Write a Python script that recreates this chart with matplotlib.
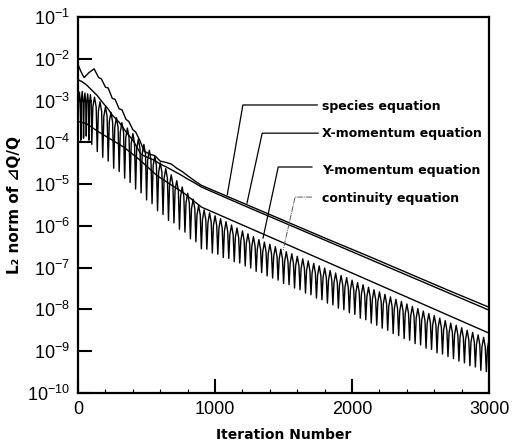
import numpy as np
import matplotlib
matplotlib.use("Agg")
import matplotlib.pyplot as plt
from matplotlib.ticker import FixedLocator, MultipleLocator, NullLocator

# curves, y values are log10 of the L2 norm
species_x = [0, 20, 44, 80, 117, 150, 170, 200, 220, 250, 270, 300, 320, 350, 370,
             400, 420, 450, 482, 520, 560, 600, 640, 680, 720, 760, 800, 850, 900,
             1200, 1500, 1800, 2100, 2400, 2700, 3000]
species_log = [-2.14, -2.30, -2.45, -2.33, -2.24, -2.45, -2.48, -2.68, -2.70, -2.95, -2.97,
               -3.20, -3.22, -3.45, -3.50, -3.70, -3.75, -3.95, -4.21, -4.28, -4.32, -4.45,
               -4.48, -4.52, -4.62, -4.70, -4.80, -4.92, -5.03,
               -5.45, -5.87, -6.29, -6.70, -7.12, -7.54, -7.95]

xmom_x = [0, 30, 60, 100, 140, 180, 212, 250, 300, 350, 400, 460, 500, 550, 600, 650,
          700, 750, 800, 850, 900, 1200, 1500, 1800, 2100, 2400, 2700, 3000]
xmom_log = [-2.50, -2.55, -2.62, -2.75, -2.88, -3.05, -3.17, -3.35, -3.52, -3.75, -3.95,
            -4.29, -4.35, -4.42, -4.52, -4.60, -4.69, -4.78, -4.88, -4.97, -5.07,
            -5.50, -5.92, -6.34, -6.76, -7.18, -7.60, -8.02]

ymom_x = [0, 60, 150, 336, 450, 577, 774, 900, 1500, 2000, 2500, 3000]
ymom_log = [-3.50, -3.55, -3.75, -4.12, -4.42, -4.80, -5.22, -5.55, -6.41, -7.13, -7.85, -8.57]

# continuity: oscillating, one cusp (bottom) and one arch top per cycle
cont_cusp_x = [0, 20, 40, 60, 80, 100,
               140, 180, 220, 260, 300, 340, 380, 420, 460, 500, 540, 580, 620, 660,
               700, 740, 780, 820, 860, 900, 940, 980, 1020, 1060, 1100, 1140, 1180,
               1220, 1260, 1300, 1340, 1380, 1420, 1460, 1500, 1540, 1580, 1620, 1660,
               1700, 1740, 1780, 1820, 1860, 1900, 1940, 1980, 2020, 2060, 2100, 2140,
               2180, 2220, 2260, 2300, 2340, 2380, 2420, 2460, 2500, 2540, 2580, 2620,
               2660, 2700, 2740, 2780, 2820, 2860, 2900, 2940, 2980]
cont_bottom = [-3.60, -3.95, -3.90, -3.85, -3.95, -4.05,
               -4.22, -4.36, -4.45, -4.62, -4.70, -4.86, -4.96, -5.12, -5.21, -5.38,
               -5.47, -5.64, -5.73, -5.87, -5.93, -6.08, -6.15, -6.31, -6.38, -6.55,
               -6.56, -6.65, -6.68, -6.76, -6.78, -6.86, -6.89, -6.96, -7.01, -7.09,
               -7.12, -7.20, -7.25, -7.30, -7.38, -7.41, -7.49, -7.53, -7.61, -7.65,
               -7.73, -7.77, -7.85, -7.89, -7.97, -8.01, -8.08, -8.12, -8.21, -8.25,
               -8.33, -8.38, -8.45, -8.50, -8.58, -8.63, -8.70, -8.74, -8.82, -8.85,
               -8.93, -8.96, -9.04, -9.07, -9.13, -9.18, -9.24, -9.28, -9.35, -9.38,
               -9.46, -9.49]
cont_top = [-2.80, -2.78, -2.82, -2.84, -2.86, -2.92,
            -3.03, -3.15, -3.28, -3.41, -3.53, -3.66, -3.79, -3.92, -4.05, -4.19,
            -4.33, -4.49, -4.63, -4.78, -4.92, -5.07, -5.22, -5.36, -5.51, -5.62,
            -5.69, -5.76, -5.83, -5.90, -5.98, -6.05, -6.12, -6.19, -6.26, -6.33,
            -6.39, -6.44, -6.50, -6.56, -6.62, -6.67, -6.73, -6.79, -6.84, -6.90,
            -6.96, -7.01, -7.07, -7.13, -7.19, -7.24, -7.30, -7.36, -7.41, -7.47,
            -7.53, -7.58, -7.64, -7.70, -7.76, -7.81, -7.87, -7.93, -7.98, -8.04,
            -8.10, -8.15, -8.21, -8.27, -8.33, -8.38, -8.44, -8.50, -8.55, -8.61,
            -8.67, -8.71]

labels = ["species equation", "X-momentum equation", "Y-momentum equation", "continuity equation"]

plt.rcParams["font.family"] = ["Liberation Sans", "DejaVu Sans", "Noto Sans CJK JP"]
plt.rcParams["mathtext.default"] = "regular"
bold_font = ["DejaVu Sans", "Noto Sans CJK JP"]

fig = plt.figure(figsize=(5.17, 4.48), dpi=100)
ax = fig.add_axes([0.151, 0.123, 0.795, 0.839])

ax.plot(species_x, 10.0 ** np.array(species_log), color="black", lw=1.0)
ax.plot(xmom_x, 10.0 ** np.array(xmom_log), color="black", lw=1.0)
ax.plot(ymom_x, 10.0 ** np.array(ymom_log), color="black", lw=1.0)

# build the arch shape of the continuity residual from cusp/top values
cx, cy = [], []
for i in range(len(cont_cusp_x)):
    x0 = cont_cusp_x[i]
    x1 = cont_cusp_x[i + 1] if i + 1 < len(cont_cusp_x) else x0 + 40
    w = x1 - x0
    t = cont_top[i]
    cx += [x0, x0 + 0.2 * w, x0 + 0.5 * w, x0 + 0.8 * w]
    cy += [cont_bottom[i], t - 0.23, t, t - 0.23]
ax.plot(cx, 10.0 ** np.array(cy), color="black", lw=1.0)

ax.set_yscale("log")
ax.set_xlim(0, 3000)
ax.set_ylim(1e-10, 1e-1)

ax.yaxis.set_major_locator(FixedLocator([10.0 ** k for k in range(-10, 0)]))
ax.yaxis.set_minor_locator(NullLocator())
ax.set_yticklabels([f"$10^{{{k}}}$" for k in range(-10, 0)])
ax.xaxis.set_major_locator(FixedLocator([0, 1000, 2000, 3000]))
ax.xaxis.set_minor_locator(MultipleLocator(200))

ax.tick_params(which="major", direction="in", length=10, width=1.5, labelsize=13, pad=6)
ax.tick_params(which="minor", direction="in", length=3, width=0.8)
ax.tick_params(axis="y", right=False)
for s in ax.spines.values():
    s.set_linewidth(1.6)

ax.set_xlabel("Iteration Number", fontsize=10, fontweight="bold", family=bold_font, labelpad=7)
ax.set_ylabel("L\u2082 norm of \u22bfQ/Q", fontsize=11, fontweight="bold", family=bold_font,
              labelpad=3)

# leader lines to the curves (axes fraction)
leaders = [
    [(0.582, 0.766), (0.401, 0.766), (0.363, 0.527)],
    [(0.584, 0.691), (0.448, 0.691), (0.411, 0.505)],
    [(0.569, 0.601), (0.487, 0.601), (0.450, 0.412)],
    [(0.569, 0.521), (0.528, 0.521), (0.499, 0.380)],
]
text_y = [0.763, 0.689, 0.593, 0.516]
for k, (pts, lab) in enumerate(zip(leaders, labels)):
    xs = [p[0] for p in pts]
    ys = [p[1] for p in pts]
    if k == 3:
        ax.plot(xs, ys, color="0.35", lw=0.7, ls=(0, (6, 1, 1, 1)), transform=ax.transAxes)
    else:
        ax.plot(xs, ys, color="black", lw=0.9, transform=ax.transAxes)
    ax.text(0.594, text_y[k], lab, transform=ax.transAxes, fontsize=9,
            fontweight="bold", family=bold_font, va="center", ha="left")

fig.savefig("out.png", dpi=100)
